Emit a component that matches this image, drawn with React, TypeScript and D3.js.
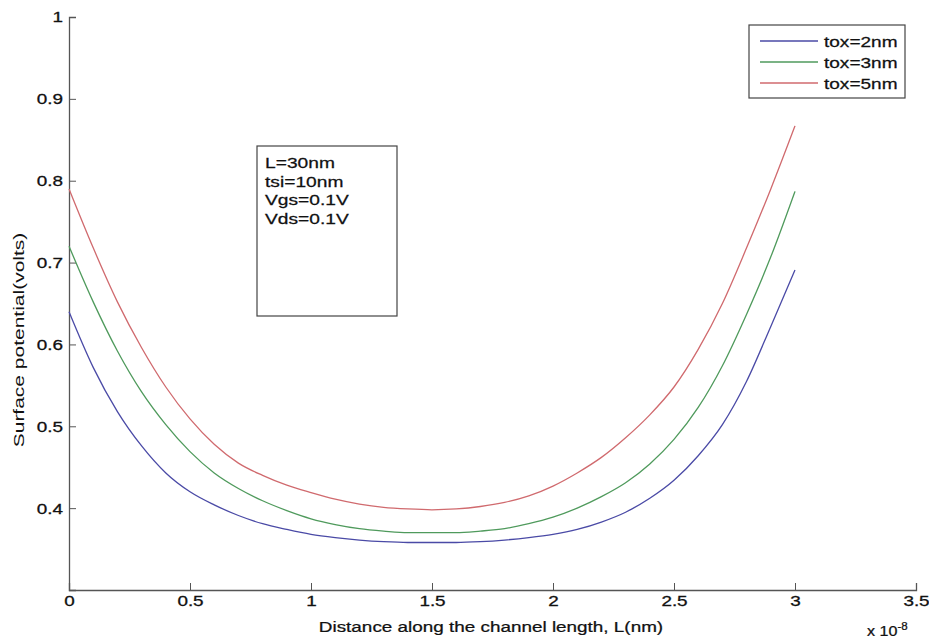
import React, { useRef, useEffect } from "react";
import * as d3 from "d3";

// x positions in units of 1e-8 m
const xValues = [
  0, 0.1, 0.2, 0.3, 0.4, 0.5, 0.6, 0.7, 0.8, 0.9, 1.0, 1.1, 1.2, 1.3, 1.4, 1.5,
  1.6, 1.7, 1.8, 1.9, 2.0, 2.1, 2.2, 2.3, 2.4, 2.5, 2.6, 2.7, 2.8, 2.9, 3.0,
];

const tox2 = [
  0.64, 0.572, 0.518, 0.476, 0.443, 0.42, 0.404, 0.391, 0.381, 0.374, 0.368,
  0.364, 0.361, 0.359, 0.358, 0.358, 0.358, 0.359, 0.361, 0.364, 0.368, 0.374,
  0.383, 0.395, 0.412, 0.434, 0.464, 0.502, 0.555, 0.622, 0.691,
];

const tox3 = [
  0.72, 0.652, 0.592, 0.542, 0.502, 0.469, 0.443, 0.424, 0.409, 0.397, 0.387,
  0.38, 0.375, 0.372, 0.37, 0.37, 0.37, 0.372, 0.375, 0.381, 0.389, 0.4,
  0.414, 0.431, 0.454, 0.484, 0.523, 0.574, 0.637, 0.707, 0.787,
];

const tox5 = [
  0.79, 0.718, 0.652, 0.596, 0.548, 0.509, 0.478, 0.455, 0.44, 0.428, 0.419,
  0.411, 0.405, 0.401, 0.399, 0.398, 0.399, 0.402, 0.407, 0.415, 0.427, 0.443,
  0.462, 0.486, 0.514, 0.548, 0.594, 0.65, 0.718, 0.79, 0.867,
];

const seriesNames = ["tox=2nm", "tox=3nm", "tox=5nm"];
const seriesColors = ["#4a4aa6", "#4f9a5c", "#d06a6e"];

const xTicks = [0, 0.5, 1, 1.5, 2, 2.5, 3, 3.5];
const yTicks = [0.4, 0.5, 0.6, 0.7, 0.8, 0.9, 1];

const noteLines = ["L=30nm", "tsi=10nm", "Vgs=0.1V", "Vds=0.1V"];

const font = "'Liberation Sans', Arial, sans-serif";

// the source figure is stretched sideways, so text gets a horizontal scale
const addText = (parent, x, y, str, size, stretch, anchor = "start", rotate = 0, weight = 0.25) =>
  parent
    .append("text")
    .attr("transform", `translate(${x},${y}) rotate(${rotate}) scale(${stretch},1)`)
    .attr("text-anchor", anchor)
    .style("font-family", font)
    .style("font-size", `${size}px`)
    .attr("fill", "#111")
    .attr("stroke", "#111")
    .attr("stroke-width", weight)
    .text(str);

const App = () => {
  const ref = useRef<SVGSVGElement>(null);

  useEffect(() => {
    const svg = d3.select(ref.current);
    svg.selectAll("*").remove();

    const width = 929;
    const height = 640;
    const margin = { top: 17, right: 13, bottom: 50, left: 69 };

    const x = d3
      .scaleLinear()
      .domain([0, 3.5])
      .range([margin.left, width - margin.right]);
    const y = d3
      .scaleLinear()
      .domain([0.3, 1])
      .range([height - margin.bottom, margin.top]);

    // axes, ticks pointing inward
    const gx = svg
      .append("g")
      .attr("transform", `translate(0,${height - margin.bottom})`)
      .call(
        d3
          .axisBottom(x)
          .tickValues(xTicks)
          .tickSize(-7)
          .tickPadding(5)
          .tickFormat((d) => String(d))
      );
    const gy = svg
      .append("g")
      .attr("transform", `translate(${margin.left},0)`)
      .call(
        d3
          .axisLeft(y)
          .tickValues(yTicks)
          .tickSize(-7)
          .tickPadding(5)
          .tickFormat((d) => String(d))
      );
    [gx, gy].forEach((g) => {
      g.select(".domain").attr("stroke", "#555").attr("stroke-width", 1.3);
      g.selectAll(".tick line").attr("stroke", "#555");
      g.selectAll(".tick text")
        .attr("fill", "#111")
        .attr("stroke", "#111")
        .attr("stroke-width", 0.3)
        .attr("transform", "scale(1.22,1)")
        .style("font-family", font)
        .style("font-size", "15.5px");
    });

    // labels
    addText(svg, 491, 632, "Distance along the channel length, L(nm)", 15, 1.26, "middle");

    const expo = addText(svg, 867, 636, "", 14, 1.15);
    expo.append("tspan").text("x 10");
    expo
      .append("tspan")
      .attr("dy", -6)
      .style("font-size", "10px")
      .text("-8");

    addText(svg, 24, 340, "Surface potential(volts)", 14, 1.5, "middle", -90, 0);

    // lines
    const line = d3
      .line<[number, number]>()
      .x((d) => x(d[0]))
      .y((d) => y(d[1]))
      .curve(d3.curveMonotoneX);

    [tox2, tox3, tox5].forEach((vals, i) => {
      svg
        .append("path")
        .datum(xValues.map((xv, j) => [xv, vals[j]] as [number, number]))
        .attr("fill", "none")
        .attr("stroke", seriesColors[i])
        .attr("stroke-width", 1.3)
        .attr("d", line);
    });

    // legend
    const legend = svg.append("g").attr("transform", "translate(749,25)");
    legend
      .append("rect")
      .attr("width", 156)
      .attr("height", 73)
      .attr("fill", "#fff")
      .attr("stroke", "#444")
      .attr("stroke-width", 1.2);
    seriesNames.forEach((name, i) => {
      const yy = 16 + i * 21;
      legend
        .append("line")
        .attr("x1", 11)
        .attr("x2", 69)
        .attr("y1", yy)
        .attr("y2", yy)
        .attr("stroke", seriesColors[i])
        .attr("stroke-width", 1.3);
      addText(legend, 75, yy + 5.5, name, 15, 1.27);
    });

    // parameter note box
    const note = svg.append("g").attr("transform", "translate(257,146)");
    note
      .append("rect")
      .attr("width", 140)
      .attr("height", 170)
      .attr("fill", "#fff")
      .attr("stroke", "#444")
      .attr("stroke-width", 1.2);
    noteLines.forEach((t, i) => {
      addText(note, 8, 22 + i * 18.5, t, 15, 1.28);
    });
  }, []);

  return (
    <svg
      ref={ref}
      width={929}
      height={640}
      style={{ position: "absolute", left: 0, top: 0, background: "#fff" }}
    ></svg>
  );
};

export default App;
